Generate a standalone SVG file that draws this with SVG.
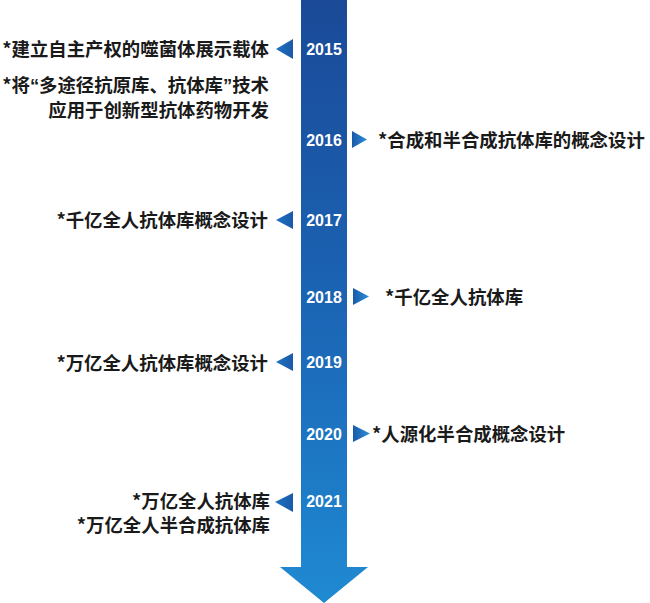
<svg xmlns="http://www.w3.org/2000/svg" width="650" height="603" viewBox="0 0 650 603">
<defs>
<linearGradient id="shaft" x1="0" y1="0" x2="0" y2="1">
<stop offset="0" stop-color="#1a4a98"/>
<stop offset="0.5" stop-color="#1b64b4"/>
<stop offset="1" stop-color="#1f8ad2"/>
</linearGradient>
<linearGradient id="triL" x1="0" y1="0" x2="1" y2="0">
<stop offset="0" stop-color="#1c72c0"/>
<stop offset="1" stop-color="#1a5aa8"/>
</linearGradient>
<linearGradient id="triR" x1="0" y1="0" x2="1" y2="0">
<stop offset="0" stop-color="#1a5aa8"/>
<stop offset="1" stop-color="#2b8fd8"/>
</linearGradient>
<style>
.yr{font-family:"Liberation Sans",Arial,sans-serif;font-weight:bold;font-size:16px;fill:#ffffff;text-anchor:middle}
.t{font-family:"Noto Sans CJK SC","Noto Sans",sans-serif;font-weight:bold;font-size:18.4px;fill:#1a1a1a}
.l{text-anchor:end}
.q{font-family:"Liberation Sans",Arial,sans-serif}
.tl{fill:url(#triL)}
.tr{fill:url(#triR)}
</style>
</defs>
<rect width="650" height="603" fill="#ffffff"/>
<g id="timeline-arrow">
<path d="M301,0 H347 V567 H368 L324,603 L280,567 H301 Z" fill="url(#shaft)"/>
</g>
<g id="connectors">
<polygon class="tl" points="276,49 293,39 293,59"/>
<polygon class="tr" points="352,131 367,139.5 352,148"/>
<polygon class="tl" points="276,220 293,211 293,229"/>
<polygon class="tr" points="353,288 369,296.5 353,305"/>
<polygon class="tl" points="276,362 293,353 293,371"/>
<polygon class="tr" points="353,425 370,433.5 353,442"/>
<polygon class="tl" points="275,502 293,493 293,512"/>
</g>
<g id="y2015"><text class="yr" x="324" y="55">2015</text>
<text class="t l" x="269" y="56">*建立自主产权的噬菌体展示载体</text>
<text class="t l" x="269" y="92">*将<tspan class="q">“</tspan>多途径抗原库、抗体库<tspan class="q">”</tspan>技术</text>
<text class="t l" x="269" y="117">应用于创新型抗体药物开发</text></g>
<g id="y2016"><text class="yr" x="324" y="146">2016</text>
<text class="t" x="378" y="147">*合成和半合成抗体库的概念设计</text></g>
<g id="y2017"><text class="yr" x="324" y="226">2017</text>
<text class="t l" x="268" y="227">*千亿全人抗体库概念设计</text></g>
<g id="y2018"><text class="yr" x="324" y="303">2018</text>
<text class="t" x="385" y="304">*千亿全人抗体库</text></g>
<g id="y2019"><text class="yr" x="324" y="368">2019</text>
<text class="t l" x="268" y="370">*万亿全人抗体库概念设计</text></g>
<g id="y2020"><text class="yr" x="324" y="440">2020</text>
<text class="t" x="372" y="441">*人源化半合成概念设计</text></g>
<g id="y2021"><text class="yr" x="324" y="507">2021</text>
<text class="t l" x="270" y="508">*万亿全人抗体库</text>
<text class="t l" x="270" y="532">*万亿全人半合成抗体库</text></g>
</svg>
